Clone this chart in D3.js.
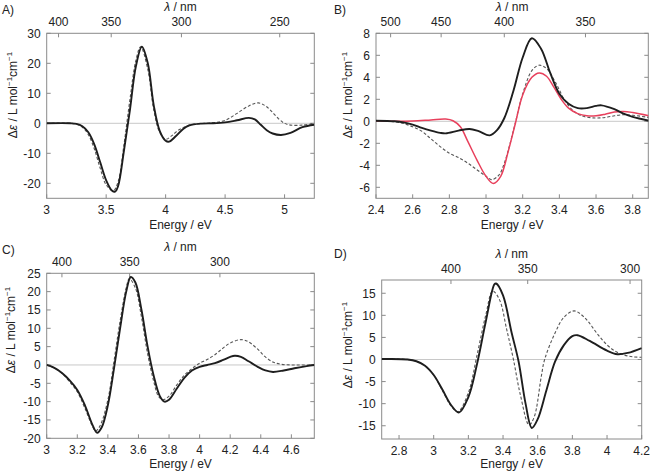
<!DOCTYPE html>
<html><head><meta charset="utf-8">
<script src="https://cdn.jsdelivr.net/npm/d3@7"></script>
<style>
body{margin:0;background:#fff;}
svg text{font-family:"Liberation Sans",Arial,Helvetica,sans-serif;fill:#222;}
</style></head>
<body><svg id="c" width="652" height="475"></svg>
<script>
// ---------- Panel A ----------
const aSolidE = [3.0,3.2,3.25,3.3,3.35,3.4,3.45,3.5,3.55,3.575,3.6,3.65,3.7,3.75,3.8,3.85,3.9,3.95,4.0,4.03,4.08,4.15,4.2,4.3,4.4,4.5,4.6,4.7,4.75,4.8,4.85,4.9,4.97,5.05,5.15,5.25];
const aSolidY = [0,0,-0.2,-1,-3,-7,-13,-19,-22.5,-22.8,-21,-9,4.5,19,25.5,20,6,-2.5,-5.8,-6.1,-4.5,-1.8,-0.7,-0.1,0,0.3,1.0,1.8,1.3,-0.5,-2.3,-3.4,-3.9,-3.2,-1.3,-0.5];
const aDashE = [3.0,3.2,3.25,3.3,3.35,3.4,3.45,3.5,3.56,3.6,3.65,3.7,3.75,3.79,3.85,3.9,3.95,4.0,4.05,4.1,4.2,4.3,4.4,4.5,4.6,4.7,4.78,4.85,4.95,5.0,5.05,5.15,5.25];
const aDashY = [0,0,-0.3,-1.3,-3.8,-8.5,-15,-20.5,-22.5,-19.5,-7,8,21,25.5,18,4.5,-3,-5.3,-4.2,-2.5,-0.6,-0.1,0.2,1.0,3.3,5.8,6.8,5.5,1.5,0,-0.6,-0.6,0];
const aXTicks = [3,3.5,4,4.5,5];
const aYTicks = [-20,-10,0,10,20,30];
const aLambdaTicks = [400,350,300,250];

// ---------- Panel B ----------
const bSolidE = [2.4,2.5,2.55,2.6,2.65,2.7,2.75,2.78,2.85,2.91,2.96,3.02,3.06,3.1,3.15,3.2,3.25,3.3,3.35,3.4,3.45,3.5,3.55,3.6,3.63,3.7,3.75,3.8,3.89];
const bSolidY = [0.05,0,-0.1,-0.3,-0.6,-0.85,-1.05,-1.1,-0.85,-0.7,-0.9,-1.28,-0.8,0.3,2.8,5.8,7.55,6.6,4.4,2.5,1.6,1.2,1.2,1.4,1.45,1.1,0.7,0.4,0.05];
const bRedE = [2.4,2.5,2.6,2.7,2.78,2.82,2.86,2.9,2.95,3.0,3.04,3.08,3.12,3.16,3.2,3.25,3.29,3.33,3.37,3.41,3.45,3.5,3.55,3.6,3.65,3.7,3.75,3.8,3.89];
const bRedY = [0.05,0,0.02,0.12,0.2,0.05,-0.5,-1.8,-3.5,-5.0,-5.65,-5.0,-2.8,-0.2,2.4,4.0,4.4,4.1,3.1,2.0,1.2,0.7,0.5,0.5,0.65,0.85,0.9,0.8,0.5];
const bDashE = [2.4,2.5,2.55,2.6,2.65,2.7,2.75,2.8,2.85,2.9,2.95,3.0,3.03,3.07,3.1,3.15,3.2,3.25,3.29,3.33,3.38,3.43,3.48,3.53,3.6,3.65,3.7,3.75,3.8,3.89];
const bDashY = [0.05,-0.05,-0.2,-0.5,-0.9,-1.6,-2.3,-2.9,-3.3,-3.8,-4.4,-5.0,-5.3,-4.9,-3.8,-0.8,2.5,4.6,5.1,4.8,3.5,1.9,0.9,0.45,0.3,0.35,0.5,0.6,0.55,0.35];
const bXTicks = [2.4,2.6,2.8,3.0,3.2,3.4,3.6,3.8];
const bYTicks = [-6,-4,-2,0,2,4,6,8];
const bLambdaTicks = [500,450,400,350];

// ---------- Panel C ----------
const cSolidE = [3.0,3.05,3.1,3.15,3.2,3.25,3.3,3.33,3.36,3.4,3.44,3.48,3.52,3.55,3.58,3.62,3.66,3.7,3.74,3.77,3.8,3.85,3.9,3.95,4.0,4.05,4.1,4.15,4.2,4.23,4.27,4.32,4.38,4.43,4.48,4.55,4.62,4.7,4.75];
const cSolidY = [0,-0.8,-2.2,-4.2,-6.8,-11,-16.4,-18.5,-17,-11,-1,10,20,24,22.5,15,5,-3,-8.5,-10,-9.5,-6.5,-3.5,-1.5,-0.5,0,0.5,1.3,2.2,2.5,2.2,1.0,-0.5,-1.5,-1.9,-1.5,-0.9,-0.3,0];
const cDashE = [3.0,3.05,3.1,3.15,3.2,3.25,3.3,3.32,3.35,3.4,3.44,3.48,3.52,3.54,3.58,3.62,3.66,3.7,3.73,3.76,3.8,3.85,3.9,3.95,4.0,4.05,4.1,4.15,4.2,4.27,4.32,4.38,4.43,4.48,4.53,4.6,4.75];
const cDashY = [0,-0.8,-2.3,-4.6,-7.3,-11.8,-16.8,-18,-16.5,-9.5,1,12,21,23.5,21,13,3,-4.5,-8.5,-9.5,-8.5,-5.5,-2.8,-1,0.5,1.5,2.8,4.5,6.0,6.9,6.3,4.3,2.2,0.8,0.2,0,0];
const cXTicks = [3,3.2,3.4,3.6,3.8,4,4.2,4.4,4.6];
const cYTicks = [-20,-15,-10,-5,0,5,10,15,20,25];
const cLambdaTicks = [400,350,300];

// ---------- Panel D ----------
const dSolidE = [2.7,2.85,2.9,2.95,3.0,3.05,3.1,3.145,3.2,3.25,3.3,3.35,3.36,3.4,3.45,3.49,3.53,3.566,3.6,3.65,3.7,3.75,3.8,3.83,3.9,4.0,4.06,4.12,4.2];
const dSolidY = [0.1,0,-0.4,-1.4,-3.5,-6.8,-10.3,-12,-8.5,-1,8.5,17,17.2,14.5,6,-0.5,-10,-15.5,-13.5,-7,-0.5,3.2,5.3,5.5,4.2,2.0,1.2,1.5,2.6];
const dDashE = [2.7,2.85,2.9,2.95,3.0,3.05,3.1,3.14,3.2,3.25,3.3,3.34,3.38,3.42,3.46,3.5,3.55,3.58,3.62,3.64,3.7,3.75,3.81,3.87,3.95,4.0,4.05,4.1,4.15,4.2];
const dDashY = [0.1,0,-0.4,-1.4,-3.5,-7,-10.5,-11.8,-7.5,1,10,15.5,13.5,7,0,-8,-14.8,-13,-4,0,6,9.5,11,9.5,5.5,3.3,1.8,1.0,0.6,0.5];
const dXTicks = [2.8,3.0,3.2,3.4,3.6,3.8,4.0,4.2];
const dYTicks = [-15,-10,-5,0,5,10,15];
const dLambdaTicks = [400,350,300];

const svg = d3.select("#c");
const HC = 1239.84; // eV·nm

function panel(o){
  const g = svg.append("g");
  const x = d3.scaleLinear().domain(o.xDomain).range([o.x0,o.x1]);
  const y = d3.scaleLinear().domain(o.yDomain).range([o.y1,o.y0]);
  const frame = "#8a8a8a";
  g.append("line").attr("x1",o.x0).attr("x2",o.x1).attr("y1",y(0)).attr("y2",y(0))
    .attr("stroke","#c8c8c8").attr("stroke-width",1);
  const tl = 4;
  o.yTicks.forEach(t=>{
    g.append("line").attr("x1",o.x0).attr("x2",o.x0+tl).attr("y1",y(t)).attr("y2",y(t)).attr("stroke",frame);
    g.append("line").attr("x1",o.x1).attr("x2",o.x1-tl).attr("y1",y(t)).attr("y2",y(t)).attr("stroke",frame);
    g.append("text").attr("x",o.x0-6).attr("y",y(t)).attr("dy","0.36em").attr("text-anchor","end")
      .attr("font-size",12).text(String(t));
  });
  o.xTicks.forEach(t=>{
    g.append("line").attr("x1",x(t)).attr("x2",x(t)).attr("y1",o.y1).attr("y2",o.y1-tl).attr("stroke",frame);
    g.append("text").attr("x",x(t)).attr("y",o.y1+16).attr("text-anchor","middle")
      .attr("font-size",12).text(String(+t.toFixed(2)));
  });
  o.lTicks.forEach(l=>{
    const e = HC/l;
    g.append("line").attr("x1",x(e)).attr("x2",x(e)).attr("y1",o.y0).attr("y2",o.y0+tl).attr("stroke",frame);
    g.append("text").attr("x",x(e)).attr("y",o.y0-7).attr("text-anchor","middle")
      .attr("font-size",12).text(String(l));
  });
  g.append("rect").attr("x",o.x0).attr("y",o.y0).attr("width",o.x1-o.x0).attr("height",o.y1-o.y0)
    .attr("fill","none").attr("stroke",frame).attr("stroke-width",1);
  const clipId = "clip"+o.name;
  svg.append("clipPath").attr("id",clipId).append("rect")
    .attr("x",o.x0).attr("y",o.y0).attr("width",o.x1-o.x0).attr("height",o.y1-o.y0);
  const line = d3.line().x(d=>x(d[0])).y(d=>y(d[1])).curve(d3.curveCatmullRom.alpha(0.5));
  o.series.forEach(s=>{
    const pts = s.e.map((v,i)=>[v,s.v[i]]);
    g.append("path").attr("d",line(pts)).attr("fill","none").attr("clip-path",`url(#${clipId})`)
      .attr("stroke",s.color).attr("stroke-width",s.w).attr("stroke-dasharray",s.dash||null)
      .attr("stroke-linejoin","round");
  });
  g.append("text").attr("x",(o.x0+o.x1)/2).attr("y",o.y1+o.tOff).attr("text-anchor","middle")
    .attr("font-size",12).text("Energy / eV");
  const lt = g.append("text").attr("x",(o.x0+o.x1)/2).attr("y",o.y0-22).attr("text-anchor","middle").attr("font-size",12);
  lt.append("tspan").attr("font-style","italic").text("λ");
  lt.append("tspan").text(" / nm");
  const yt = g.append("text").attr("transform",`translate(${o.ylx},${o.yly}) rotate(-90)`)
    .attr("text-anchor","middle").attr("font-size",12);
  yt.append("tspan").text("Δ");
  yt.append("tspan").attr("font-style","italic").text("ε");
  yt.append("tspan").text(" / L mol");
  yt.append("tspan").attr("font-size",8).attr("dy",-5).text("−1");
  yt.append("tspan").attr("dy",5).text("cm");
  yt.append("tspan").attr("font-size",8).attr("dy",-5).text("−1");
  g.append("text").attr("x",o.px).attr("y",o.py).attr("font-size",12).text(o.label);
}

const solid = {color:"#1e1e1e", w:1.9};
const dashed = {color:"#555", w:1.1, dash:"3,2"};
const red = {color:"#e8405c", w:1.5};

panel({name:"A",label:"A)",px:2,py:14,x0:46.7,x1:314.3,y0:33.3,y1:198.3,xDomain:[3,5.25],yDomain:[-25,30],tOff:31,
  xTicks:aXTicks,yTicks:aYTicks,lTicks:aLambdaTicks,ylx:17,yly:95,
  series:[{...dashed,e:aDashE,v:aDashY},{...solid,e:aSolidE,v:aSolidY}]});
panel({name:"B",label:"B)",px:334,py:14,x0:376,x1:648.3,y0:33.3,y1:198.3,xDomain:[2.4,3.885],yDomain:[-7,8],tOff:31,
  xTicks:bXTicks,yTicks:bYTicks,lTicks:bLambdaTicks,ylx:352,yly:95,
  series:[{...dashed,e:bDashE,v:bDashY},{...red,e:bRedE,v:bRedY},{...solid,e:bSolidE,v:bSolidY}]});
panel({name:"C",label:"C)",px:2,py:254,x0:46.7,x1:314.3,y0:273.3,y1:438.3,xDomain:[3,4.75],yDomain:[-20,25],tOff:30,
  xTicks:cXTicks,yTicks:cYTicks,lTicks:cLambdaTicks,ylx:15,yly:330,
  series:[{...dashed,e:cDashE,v:cDashY},{...solid,e:cSolidE,v:cSolidY}]});
panel({name:"D",label:"D)",px:334,py:258,x0:381.7,x1:641.7,y0:280,y1:439,xDomain:[2.7,4.2],yDomain:[-18,18],tOff:29,
  xTicks:dXTicks,yTicks:dYTicks,lTicks:dLambdaTicks,ylx:352,yly:345,
  series:[{...dashed,e:dDashE,v:dDashY},{...solid,e:dSolidE,v:dSolidY}]});
</script></body></html>
